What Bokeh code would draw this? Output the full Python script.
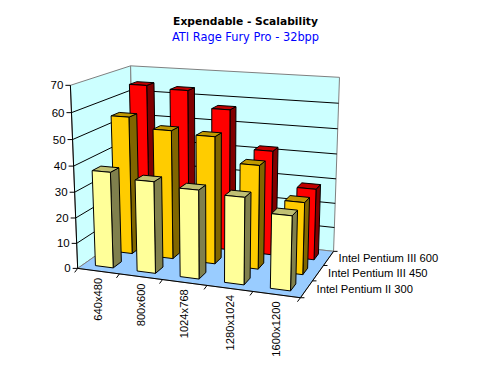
import numpy as np
from bokeh.plotting import figure
from bokeh.models import Range1d
from bokeh.core.properties import value
from bokeh.embed import file_html
from bokeh.resources import INLINE

categories = ["640x480", "800x600", "1024x768", "1280x1024", "1600x1200"]
series_names = ["Intel Pentium II 300", "Intel Pentium III 450", "Intel Pentium III 600"]
pentium2_300 = [37.5, 35.5, 34, 33, 28]
pentium3_450 = [55, 51, 50, 40.5, 28]
pentium3_600 = [64.5, 63.5, 57, 42, 28.5]
z_ticks = [0, 10, 20, 30, 40, 50, 60, 70]
Z_MAX = 70

# Camera fitted to the chart box corners: (cat, depth, value) -> window pixels
world = [(0,0,0),(5,0,0),(5,3,0),(0,3,0),(0,0,70),(0,3,70),(5,3,70)]
image = [(77,267),(300,298),(333,250),(134,229),(70,85),(130,65),(339,77)]
A, b = [], []
for (X,Y,Z),(px,py) in zip(world, image):
    A.append([X,Y,Z,1,0,0,0,0,-px*X,-px*Y,-px*Z]); b.append(px)
    A.append([0,0,0,0,X,Y,Z,1,-py*X,-py*Y,-py*Z]); b.append(py)
cam = np.linalg.lstsq(np.array(A,float), np.array(b,float), rcond=None)[0]
def proj(u, w, z):
    d = cam[8]*u+cam[9]*w+cam[10]*z+1
    return ((cam[0]*u+cam[1]*w+cam[2]*z+cam[3])/d, (cam[4]*u+cam[5]*w+cam[6]*z+cam[7])/d)

p = figure(width=474, height=361, output_backend="svg", toolbar_location=None,
           x_range=Range1d(0,474), y_range=Range1d(361,0), min_border=0)
p.axis.visible = False
p.grid.visible = False
p.outline_line_color = None

def face(pts, fill, line="black", lw=1.0):
    xs, ys = zip(*[proj(*q) for q in pts])
    p.patch(list(xs), list(ys), fill_color=fill, line_color=line, line_width=lw)
def seg(a, b, color="black", lw=1.0):
    xa, ya = proj(*a); xb, yb = proj(*b)
    p.line([xa,xb],[ya,yb], line_color=color, line_width=lw)

WALL, FLOOR = "#CCFFFF", "#99CCFF"
face([(0,0,0),(0,3,0),(0,3,Z_MAX),(0,0,Z_MAX)], WALL, "#808080")
face([(0,3,0),(5,3,0),(5,3,Z_MAX),(0,3,Z_MAX)], WALL, "#808080")
face([(0,0,0),(5,0,0),(5,3,0),(0,3,0)], FLOOR, "#808080")
for z in z_ticks[1:-1]:
    seg((0,0,z),(0,3,z)); seg((0,3,z),(5,3,z))
seg((0,0,0),(0,0,Z_MAX)); seg((0,0,0),(5,0,0)); seg((5,0,0),(5,3,0))

# axis ticks and labels
tx, ty, tt = [], [], []
for z in z_ticks:
    x, y = proj(0,0,z)
    p.line([x-5,x],[y,y], line_color="black")
    tx.append(x-7); ty.append(y); tt.append(str(z))
font = value("Liberation Sans")
p.text(tx, ty, text=tt, text_font=font, text_font_size="11.5px", text_align="right", text_baseline="middle", text_color="black")
for i in range(6):
    x, y = proj(i,0,0)
    p.line([x,x-3],[y,y+4], line_color="black")
for j in range(4):
    x, y = proj(5,j,0)
    p.line([x,x+4],[y,y], line_color="black")

cx, cy = [], []
for i in range(5):
    x, y = proj(i+0.45,0,0)
    cx.append(x+2); cy.append(y+7)
p.text(cx, cy, text=categories, text_font=font, text_font_size="11.2px", angle=np.pi/2,
       text_align="right", text_baseline="middle", text_color="black")
sx, sy = [], []
for j in range(3):
    x, y = proj(5,j+0.5,0)
    sx.append(x+10); sy.append(y)
p.text(sx, sy, text=series_names, text_font=font, text_font_size="11.2px",
       text_align="left", text_baseline="middle", text_color="black")

# bars
rows = [(2, pentium3_600, "#FF0000", "#800000", "#C00000"),
        (1, pentium3_450, "#FFCC00", "#806600", "#C09900"),
        (0, pentium2_300, "#FFFF99", "#80804D", "#C0C073")]
HW, HD = 0.215, 0.21
for w, vals, front, side, top in rows:
    for i in range(4,-1,-1):
        v = vals[i]
        u0, u1 = i+0.5-HW, i+0.5+HW
        w0, w1 = w+0.5-HD, w+0.5+HD
        face([(u1,w0,0),(u1,w1,0),(u1,w1,v),(u1,w0,v)], side)
        face([(u0,w0,v),(u1,w0,v),(u1,w1,v),(u0,w1,v)], top)
        face([(u0,w0,0),(u1,w0,0),(u1,w0,v),(u0,w0,v)], front)

p.text([245],[21], text=["Expendable - Scalability"], text_font=value("DejaVu Sans"), text_font_size="10.7px",
       text_font_style="bold", text_align="center", text_baseline="middle", text_color="black")
p.text([245],[36], text=["ATI Rage Fury Pro - 32bpp"], text_font=value("DejaVu Sans"), text_font_size="11.4px",
       text_align="center", text_baseline="middle", text_color="#0000FF")

open("out.html","w").write(file_html(p, INLINE))
